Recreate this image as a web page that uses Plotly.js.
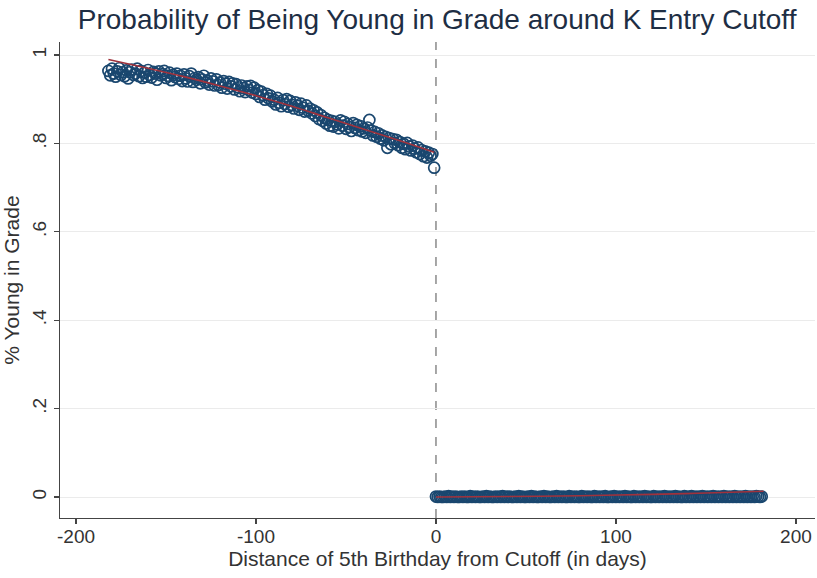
<!DOCTYPE html>
<html>
<head>
<meta charset="utf-8">
<script src="https://cdn.plot.ly/plotly-3.0.1.min.js"></script>
<style>
html,body{margin:0;padding:0;background:#fff;}
#chart{width:817px;height:578px;}
</style>
</head>
<body>
<div id="chart"></div>
<script>
// ---- data ----
var leftStartDay = -182;   // first day left of cutoff
var rightStartDay = 0;     // first day at/after cutoff
var cutoffDay = 0;

// share young in grade, days -182 .. -1
var leftShare = [
  0.964,0.954,0.969,0.958,0.951,0.963,0.970,0.955,0.961,0.952,
  0.965,0.947,0.961,0.967,0.955,0.958,0.969,0.952,0.964,0.948,
  0.960,0.951,0.966,0.955,0.949,0.962,0.958,0.944,0.963,0.954,
  0.957,0.964,0.948,0.953,0.960,0.943,0.955,0.950,0.958,0.946,
  0.953,0.941,0.956,0.947,0.940,0.952,0.958,0.939,0.948,0.944,
  0.950,0.936,0.945,0.953,0.938,0.942,0.933,0.947,0.940,0.931,
  0.945,0.932,0.938,0.926,0.941,0.935,0.924,0.939,0.929,0.936,
  0.922,0.934,0.927,0.918,0.931,0.925,0.916,0.929,0.921,0.930,
  0.915,0.926,0.912,0.920,0.905,0.917,0.909,0.899,0.912,0.902,
  0.908,0.895,0.899,0.888,0.903,0.892,0.884,0.898,0.889,0.900,
  0.883,0.896,0.887,0.879,0.893,0.885,0.876,0.890,0.881,0.872,
  0.886,0.874,0.879,0.868,0.875,0.862,0.870,0.855,0.864,0.851,
  0.858,0.845,0.853,0.840,0.851,0.838,0.849,0.843,0.834,0.852,
  0.840,0.849,0.833,0.844,0.837,0.828,0.846,0.835,0.842,0.830,
  0.839,0.827,0.834,0.824,0.836,0.853,0.829,0.818,0.826,0.815,
  0.823,0.811,0.818,0.807,0.815,0.790,0.812,0.798,0.810,0.801,
  0.808,0.796,0.803,0.790,0.799,0.787,0.801,0.793,0.784,0.795,
  0.788,0.780,0.791,0.776,0.785,0.771,0.782,0.768,0.779,0.772,
  0.776,0.745
];

// share young in grade, days 0 .. 181
var rightShare = [
  0.001,0.000,0.001,0.000,0.000,0.001,0.000,0.002,0.000,0.001,
  0.000,0.001,0.000,0.000,0.001,0.000,0.001,0.000,0.000,0.002,
  0.000,0.001,0.000,0.001,0.000,0.000,0.001,0.000,0.002,0.000,
  0.001,0.000,0.000,0.001,0.000,0.001,0.000,0.002,0.000,0.001,
  0.000,0.001,0.000,0.000,0.001,0.000,0.002,0.000,0.001,0.000,
  0.000,0.001,0.000,0.002,0.000,0.001,0.000,0.000,0.001,0.000,
  0.002,0.000,0.001,0.000,0.000,0.001,0.000,0.002,0.000,0.001,
  0.000,0.001,0.000,0.000,0.002,0.000,0.001,0.000,0.001,0.000,
  0.000,0.002,0.000,0.001,0.000,0.001,0.000,0.000,0.002,0.000,
  0.001,0.000,0.001,0.000,0.002,0.000,0.000,0.001,0.000,0.002,
  0.000,0.001,0.000,0.001,0.000,0.002,0.000,0.001,0.000,0.000,
  0.002,0.000,0.001,0.000,0.001,0.000,0.002,0.000,0.001,0.000,
  0.000,0.002,0.000,0.001,0.000,0.001,0.000,0.002,0.000,0.001,
  0.000,0.001,0.000,0.002,0.000,0.001,0.000,0.000,0.002,0.000,
  0.001,0.000,0.002,0.000,0.001,0.000,0.001,0.000,0.002,0.000,
  0.001,0.000,0.001,0.000,0.002,0.000,0.001,0.000,0.001,0.000,
  0.002,0.000,0.001,0.000,0.001,0.000,0.002,0.000,0.001,0.000,
  0.001,0.000,0.002,0.000,0.001,0.000,0.001,0.000,0.002,0.001,
  0.000,0.001
];

// fitted lines
var leftFitDays  = [-182,-160,-140,-120,-100,-80,-60,-40,-20,-1];
var leftFitShare = [0.990,0.970,0.951,0.930,0.908,0.884,0.858,0.832,0.806,0.780];
var rightFitDays  = [0,40,80,120,150,182];
var rightFitShare = [0.000,0.001,0.003,0.006,0.009,0.013];

var yTickVals = [0,0.2,0.4,0.6,0.8,1];
var yTickText = ['0','.2','.4','.6','.8','1'];
var xTickVals = [-200,-100,0,100,200];
var xTickText = ['-200','-100','0','100','200'];

// ---- build traces ----
var leftDays = leftShare.map(function(v,i){return leftStartDay+i;});
var rightDays = rightShare.map(function(v,i){return rightStartDay+i;});

var navy = '#1a476f';
var maroon = '#a0323c';
var markerStyle = {symbol:'circle-open', size:11, color:navy, line:{width:1.7,color:navy}};

var traces = [
  {x:leftDays, y:leftShare, type:'scatter', mode:'markers', marker:markerStyle, hoverinfo:'x+y'},
  {x:rightDays, y:rightShare, type:'scatter', mode:'markers', marker:markerStyle, hoverinfo:'x+y'},
  {x:leftFitDays, y:leftFitShare, type:'scatter', mode:'lines', line:{color:maroon,width:1.6,shape:'spline'}},
  {x:rightFitDays, y:rightFitShare, type:'scatter', mode:'lines', line:{color:maroon,width:1.6,shape:'spline'}}
];

var fontFam = '"Liberation Sans", Arial, Helvetica, sans-serif';

var layout = {
  width:817, height:578,
  paper_bgcolor:'#ffffff', plot_bgcolor:'#ffffff',
  showlegend:false,
  margin:{l:60, r:2, t:42, b:60, pad:0},
  font:{family:fontFam, size:19, color:'#333333'},
  title:{text:'Probability of Being Young in Grade around K Entry Cutoff',
         font:{family:fontFam, size:28, color:'#1e2e44'},
         x:0.4995, xanchor:'center', xref:'paper', y:0.966, yanchor:'middle', yref:'container'},
  xaxis:{
    range:[-208.9,210.6], tickvals:xTickVals, ticktext:xTickText,
    showgrid:false, zeroline:false, showline:true, linecolor:'#444', linewidth:1.2,
    ticks:'outside', ticklen:5, tickcolor:'#444', tickwidth:1.2, ticklabelstandoff:-4,
    tickfont:{family:fontFam,size:19,color:'#333'},
    title:{text:'Distance of 5th Birthday from Cutoff (in days)', font:{family:fontFam,size:21,color:'#333'}, standoff:1}
  },
  yaxis:{
    range:[-0.0475,1.0294], tickvals:yTickVals, ticktext:yTickText, tickangle:-90,
    showgrid:true, gridcolor:'#ebebeb', gridwidth:1, zeroline:false,
    showline:true, linecolor:'#444', linewidth:1.2,
    ticks:'outside', ticklen:5, tickcolor:'#444', tickwidth:1.2,
    tickfont:{family:fontFam,size:19,color:'#333'},
    title:{text:'% Young in Grade', font:{family:fontFam,size:21,color:'#333'}, standoff:6}
  },
  shapes:[{type:'line', xref:'x', yref:'paper', x0:cutoffDay, x1:cutoffDay, y0:0, y1:1,
           line:{color:'#8a8a8a', width:1.5, dash:'dash'}, layer:'below'}]
};

Plotly.newPlot('chart', traces, layout, {displayModeBar:false, staticPlot:true});
</script>
</body>
</html>
